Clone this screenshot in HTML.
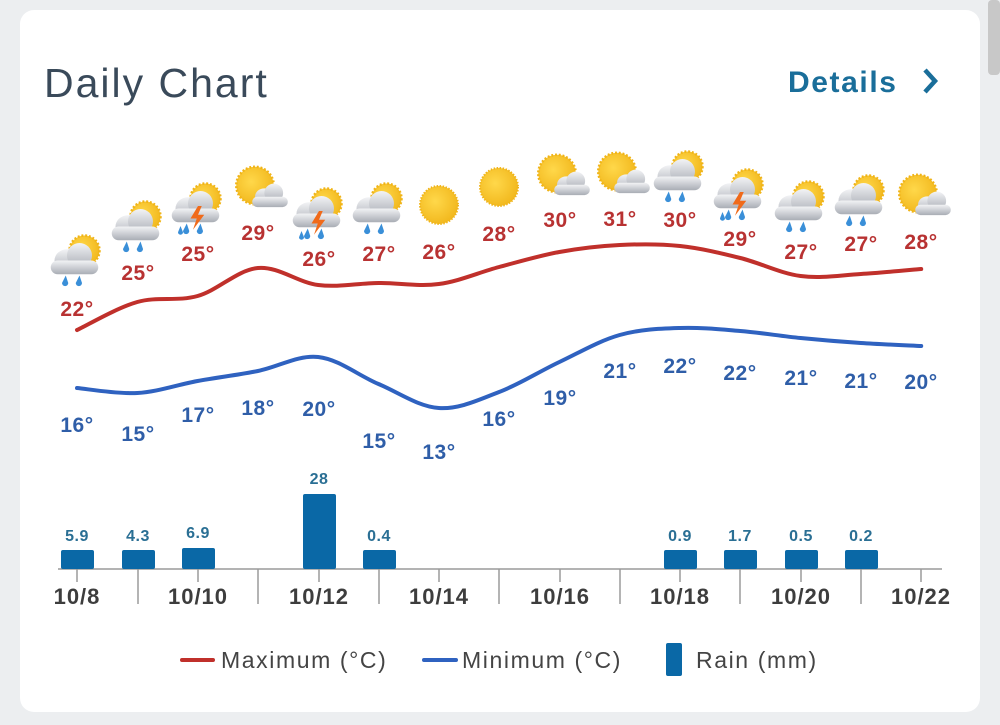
<!DOCTYPE html>
<html><head><meta charset="utf-8"><style>
html,body{margin:0;padding:0;background:#eceef0;width:1000px;height:725px;overflow:hidden;font-family:"Liberation Sans",sans-serif}
.card{position:absolute;left:20px;top:10px;width:960px;height:702px;background:#fff;border-radius:14px}
.sb{position:absolute;left:988px;top:0;width:12px;height:75px;background:#c8c8c8;border-radius:4px}
</style></head><body>
<div class="sb"></div>
<div class="card"></div>
<svg width="1000" height="725" style="position:absolute;left:0;top:0" font-family="Liberation Sans, sans-serif">
<defs>
<radialGradient id="sun" cx="0.4" cy="0.4" r="0.7"><stop offset="0" stop-color="#ffd84a"/><stop offset="1" stop-color="#f0b418"/></radialGradient>
<linearGradient id="cl" x1="0" y1="0" x2="0" y2="1"><stop offset="0" stop-color="#f2f3f5"/><stop offset="1" stop-color="#a9adb5"/></linearGradient>
<g id="cloud"><ellipse cx="-6" cy="4" rx="10" ry="9" fill="url(#cl)"/><ellipse cx="4" cy="0" rx="10" ry="10" fill="url(#cl)"/><rect x="-19" y="4" width="38" height="11" rx="5.5" fill="url(#cl)"/></g>
<g id="drops"><path d="M-7 16 l-3 6 a2.5 2.5 0 0 0 5 0z" fill="#3a8fd8"/><path d="M4 16 l-3 6 a2.5 2.5 0 0 0 5 0z" fill="#3a8fd8"/></g>
<g id="A0"><circle cx="6" cy="-6" r="12" fill="url(#sun)" stroke="#f0b418" stroke-dasharray="1.5 1.5" stroke-width="2"/><use href="#cloud" x="-2" y="-2"/><use href="#drops" x="-2" y="-2"/></g>
<g id="A"><use href="#A0" transform="scale(1.25)"/></g>
<g id="T"><g transform="scale(1.25)"><use href="#A0"/><path d="M0 0 l-6 10 h5 l-3 9 l9 -12 h-5 l3 -7z" fill="#f06a1a"/><path d="M-14 16 l-2 5 a2 2 0 0 0 4 0z" fill="#3a8fd8"/></g></g>
<g id="P"><g transform="scale(1.25)"><circle cx="-4" cy="-2" r="15" fill="url(#sun)" stroke="#f0b418" stroke-dasharray="1.5 1.5" stroke-width="2"/><g transform="translate(8,4) scale(0.75)"><use href="#cloud"/></g></g></g>
<g id="S"><circle cx="0" cy="0" r="19" fill="url(#sun)" stroke="#f0b418" stroke-dasharray="1.5 1.5" stroke-width="2"/></g>
</defs>
<text x="44" y="97" font-size="41" fill="#3a4a5a" letter-spacing="2">Daily Chart</text>
<text x="788" y="92" font-size="30" font-weight="bold" fill="#1a6e9a" letter-spacing="1.6">Details</text>
<path d="M925 70 l10 11 l-10 11" stroke="#1a6e9a" stroke-width="4.5" fill="none"/>

<g>
<use href="#A" x="77" y="258"/><use href="#A" x="138" y="224"/><use href="#T" x="198" y="206"/><use href="#P" x="260" y="188"/><use href="#T" x="319" y="211"/><use href="#A" x="379" y="206"/><use href="#S" x="439" y="205"/><use href="#S" x="499" y="187"/><use href="#P" x="562" y="176"/><use href="#P" x="622" y="174"/><use href="#A" x="680" y="174"/><use href="#T" x="740" y="192"/><use href="#A" x="801" y="204"/><use href="#A" x="861" y="198"/><use href="#P" x="923" y="196"/>
</g>
<path id="maxp" stroke="#c0302b" stroke-width="4" fill="none" stroke-linecap="round"/>
<path id="minp" stroke="#2f62c0" stroke-width="4" fill="none" stroke-linecap="round"/>
<g font-size="21" font-weight="bold" fill="#b83232" text-anchor="middle" letter-spacing="0.5">
<text x="77" y="316">22°</text><text x="138" y="280">25°</text><text x="198" y="261">25°</text><text x="258" y="240">29°</text><text x="319" y="266">26°</text><text x="379" y="261">27°</text><text x="439" y="259">26°</text><text x="499" y="241">28°</text><text x="560" y="227">30°</text><text x="620" y="226">31°</text><text x="680" y="227">30°</text><text x="740" y="246">29°</text><text x="801" y="259">27°</text><text x="861" y="251">27°</text><text x="921" y="249">28°</text>
</g>
<g font-size="21" font-weight="bold" fill="#2f5ea8" text-anchor="middle" letter-spacing="0.5">
<text x="77" y="432">16°</text><text x="138" y="441">15°</text><text x="198" y="422">17°</text><text x="258" y="415">18°</text><text x="319" y="416">20°</text><text x="379" y="448">15°</text><text x="439" y="459">13°</text><text x="499" y="426">16°</text><text x="560" y="405">19°</text><text x="620" y="378">21°</text><text x="680" y="373">22°</text><text x="740" y="380">22°</text><text x="801" y="385">21°</text><text x="861" y="388">21°</text><text x="921" y="389">20°</text>
</g>
<g stroke="#9a9a9a" stroke-width="1.5">
<line x1="58" y1="569" x2="942" y2="569"/>
<line x1="77" y1="569" x2="77" y2="582"/><line x1="138" y1="569" x2="138" y2="604"/><line x1="198" y1="569" x2="198" y2="582"/><line x1="258" y1="569" x2="258" y2="604"/><line x1="319" y1="569" x2="319" y2="582"/><line x1="379" y1="569" x2="379" y2="604"/><line x1="439" y1="569" x2="439" y2="582"/><line x1="499" y1="569" x2="499" y2="604"/><line x1="560" y1="569" x2="560" y2="582"/><line x1="620" y1="569" x2="620" y2="604"/><line x1="680" y1="569" x2="680" y2="582"/><line x1="740" y1="569" x2="740" y2="604"/><line x1="801" y1="569" x2="801" y2="582"/><line x1="861" y1="569" x2="861" y2="604"/><line x1="921" y1="569" x2="921" y2="582"/>
</g>
<g fill="#0a68a6">
<rect x="61" y="550" width="33" height="19" rx="2"/><rect x="122" y="550" width="33" height="19" rx="2"/><rect x="182" y="548" width="33" height="21" rx="2"/><rect x="303" y="494" width="33" height="75" rx="2"/><rect x="363" y="550" width="33" height="19" rx="2"/><rect x="664" y="550" width="33" height="19" rx="2"/><rect x="724" y="550" width="33" height="19" rx="2"/><rect x="785" y="550" width="33" height="19" rx="2"/><rect x="845" y="550" width="33" height="19" rx="2"/>
</g>
<g font-size="16" font-weight="bold" fill="#2a6f94" text-anchor="middle" letter-spacing="0.5">
<text x="77" y="541">5.9</text><text x="138" y="541">4.3</text><text x="198" y="538">6.9</text><text x="319" y="484">28</text><text x="379" y="541">0.4</text><text x="680" y="541">0.9</text><text x="740" y="541">1.7</text><text x="801" y="541">0.5</text><text x="861" y="541">0.2</text>
</g>
<g font-size="22" font-weight="bold" fill="#3d3d3d" text-anchor="middle" letter-spacing="1">
<text x="77" y="604">10/8</text><text x="198" y="604">10/10</text><text x="319" y="604">10/12</text><text x="439" y="604">10/14</text><text x="560" y="604">10/16</text><text x="680" y="604">10/18</text><text x="801" y="604">10/20</text><text x="921" y="604">10/22</text>
</g>
<line x1="182" y1="660" x2="213" y2="660" stroke="#c0302b" stroke-width="4" stroke-linecap="round"/>
<line x1="424" y1="660" x2="456" y2="660" stroke="#2f62c0" stroke-width="4" stroke-linecap="round"/>
<rect x="666" y="643" width="16" height="33" rx="2" fill="#0a68a6"/>
<g font-size="23" fill="#444" letter-spacing="1.6">
<text x="221" y="668">Maximum (°C)</text><text x="462" y="668">Minimum (°C)</text><text x="696" y="668">Rain (mm)</text>
</g>
</svg>
<script>
function sm(ys){var x0=77,dx=60.3,p=ys.map(function(y,i){return[x0+i*dx,y]});var d="M"+p[0][0]+" "+p[0][1];
for(var i=0;i<p.length-1;i++){var a=p[i-1]||p[i],b=p[i],c=p[i+1],e=p[i+2]||c,t=0.17;
d+=" C"+(b[0]+(c[0]-a[0])*t)+" "+(b[1]+(c[1]-a[1])*t)+" "+(c[0]-(e[0]-b[0])*t)+" "+(c[1]-(e[1]-b[1])*t)+" "+c[0]+" "+c[1];}return d;}
document.getElementById("maxp").setAttribute("d",sm([330,302,296,268,285,283,284,267,252,245,246,258,276,274,269]));
document.getElementById("minp").setAttribute("d",sm([388,393,381,371,357,384,408,392,362,335,328,331,338,343,346]));
</script>
</body></html>
